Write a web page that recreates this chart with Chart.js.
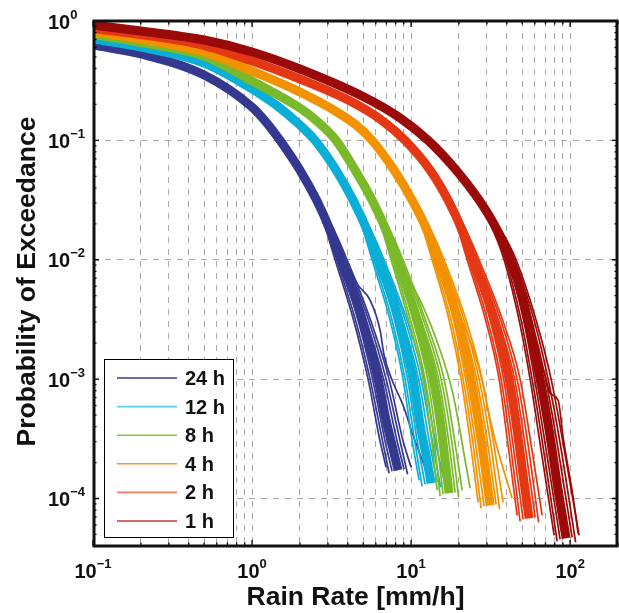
<!DOCTYPE html>
<html><head><meta charset="utf-8">
<script src="https://cdn.jsdelivr.net/npm/chart.js@4.4.1/dist/chart.umd.min.js"></script>
<style>html,body{margin:0;padding:0;background:#fff;}#wrap{position:relative;width:619px;height:613px;}</style>
</head><body><div id="wrap"><canvas id="c" width="619" height="613"></canvas></div>
<script>
// ---------- data ----------
const seriesNames = ['24 h', '12 h', '8 h', '4 h', '2 h', '1 h'];
const xTickValues = [0.1, 1, 10, 100];
const yTickValues = [1, 0.1, 0.01, 0.001, 0.0001];
const xGridValues = [0.2,0.3,0.4,0.5,0.6,0.7,0.8,0.9,1,2,3,4,5,6,7,8,9,10,20,30,40,50,60,70,80,90,100];
const yGridValues = [0.1, 0.01, 0.001, 0.0001];
const xLabel = 'Rain Rate [mm/h]';
const yLabel = 'Probability of Exceedance';

// central exceedance curve of each bundle: [rain rate mm/h, probability]
const core24 = [[0.1,0.6292],[0.2,0.529],[0.5,0.3527],[1,0.1902],[1.225,0.1424],[1.5,0.1],[2.0,0.0564],[2.545,0.0316],[3.095,0.0177],[3.628,0.01],[4.51,0.004585],[5.365,0.002119],[6.201,0.001],[6.964,4.522e-4],[7.596,2.792e-4],[8.284,1.723e-4]];
const core12 = [[0.1,0.7064],[0.2,0.6053],[0.5,0.4444],[1,0.2692],[1.5,0.1865],[2.0,0.1343],[2.49,0.1],[3.375,0.0564],[4.317,0.0316],[5.288,0.0177],[6.201,0.01],[7.707,0.004585],[9.037,0.002119],[10.29,0.001],[11.56,3.728e-4],[12.428,2.302e-4],[13.363,1.341e-4]];
const core8 = [[0.1,0.7707],[0.2,0.6604],[0.5,0.5086],[1,0.3142],[2,0.1865],[2.601,0.1424],[3.375,0.1],[4.445,0.0564],[5.686,0.0316],[6.964,0.0177],[8.165,0.01],[10,0.004585],[11.9,0.002119],[13.76,0.001],[15.22,4.522e-4],[16.37,2.09e-4],[17.34,1.106e-4]];
const core4 = [[0.1,0.8165],[0.2,0.7064],[0.5,0.5497],[1,0.3809],[2,0.254],[3.424,0.1727],[4.51,0.1343],[5.686,0.1],[7.819,0.0564],[10.15,0.0316],[12.61,0.0177],[14.79,0.01],[18.11,0.004585],[21.24,0.002119],[23.84,0.001],[26.39,4.522e-4],[28.79,2.09e-4],[31.4,8.77e-5]];
const core2 = [[0.1,0.8652],[0.2,0.7707],[0.5,0.6232],[1,0.4621],[2,0.3265],[4.134,0.2135],[6.384,0.1509],[9.169,0.1],[13.17,0.0564],[17.09,0.0316],[20.94,0.0177],[24.54,0.01],[30.5,0.004585],[36.29,0.002119],[41.34,0.001],[46.42,3.728e-4],[50.63,1.565e-4],[55.22,6.823e-5]];
const core1 = [[0.1,0.9257],[0.2,0.8245],[0.5,0.693],[1,0.5497],[2,0.396],[5.063,0.2306],[8.529,0.1538],[12.79,0.1],[19.19,0.0564],[26.77,0.0316],[34.75,0.0177],[41.94,0.01],[50.63,0.004585],[57.68,0.002119],[64.77,0.001],[73.79,3.728e-4],[84.06,1.172e-4],[94.38,4.638e-5]];

// individual realisations fanning out in the tail of each bundle
const tails24 = [
  [[1.5,0.1],[2.472,0.0316],[2.92,0.0177],[3.327,0.01],[4.349,0.003117],[5.365,0.001],[6.365,3.075e-4],[6.964,1.826e-4]],
  [[1.5,0.1],[2.49,0.0316],[2.963,0.0177],[3.4,0.01],[4.477,0.003117],[5.523,0.001],[6.6,3.075e-4],[7.274,1.626e-4]],
  [[1.5,0.1],[2.508,0.0316],[3.028,0.0177],[3.5,0.01],[4.642,0.003117],[5.727,0.001],[6.844,3.075e-4],[7.596,1.69e-4]],
  [[1.5,0.1],[2.582,0.0316],[3.162,0.0177],[3.763,0.01],[5.213,0.003117],[6.716,0.001],[8.142,3.075e-4],[9.037,1.757e-4]],
  [[1.5,0.1],[2.601,0.0316],[3.232,0.0177],[3.873,0.01],[5.404,0.003117],[6.964,0.001],[8.504,3.075e-4],[9.506,1.595e-4]],
  [[1.5,0.1],[2.62,0.0316],[3.28,0.0177],[3.958,0.01],[5.563,0.003117],[7.274,0.001],[8.881,3.075e-4],[10.0,1.826e-4]],
  [[3.628,0.01],[4.134,0.008178],[4.642,0.006125],[5.523,0.004585],[6.384,0.00257],[6.765,0.001586],[7.596,9.79e-4],[8.907,6.04e-4],[10.29,3.387e-4],[12.61,1.626e-4]]
];
const tails12 = [
  [[2.49,0.1],[4.194,0.0316],[4.99,0.0177],[5.686,0.01],[7.378,0.003117],[8.907,0.001],[10.146,3.075e-4],[11.229,1.421e-4]],
  [[2.49,0.1],[4.225,0.0316],[5.063,0.0177],[5.81,0.01],[7.596,0.003117],[9.169,0.001],[10.52,3.075e-4],[11.728,1.266e-4]],
  [[2.49,0.1],[4.256,0.0316],[5.174,0.0177],[5.98,0.01],[7.875,0.003117],[9.506,0.001],[10.908,3.075e-4],[12.246,1.316e-4]],
  [[2.49,0.1],[4.38,0.0316],[5.404,0.0177],[6.43,0.01],[8.842,0.003117],[11.148,0.001],[12.981,3.075e-4],[14.576,1.367e-4]],
  [[2.49,0.1],[4.412,0.0316],[5.523,0.0177],[6.618,0.01],[9.169,0.003117],[11.56,0.001],[13.557,3.075e-4],[15.334,1.241e-4]],
  [[2.49,0.1],[4.444,0.0316],[5.604,0.0177],[6.765,0.01],[9.437,0.003117],[12.073,0.001],[14.16,3.075e-4],[16.132,1.421e-4]]
];
const tails8 = [
  [[3.375,0.1],[5.523,0.0316],[6.572,0.0177],[7.487,0.01],[9.644,0.003117],[11.899,0.001],[13.459,3.075e-4],[14.576,1.172e-4]],
  [[3.375,0.1],[5.563,0.0316],[6.668,0.0177],[7.65,0.01],[9.928,0.003117],[12.246,0.001],[13.956,3.075e-4],[15.223,1.043e-4]],
  [[3.375,0.1],[5.604,0.0316],[6.813,0.0177],[7.875,0.01],[10.294,0.003117],[12.701,0.001],[14.47,3.075e-4],[15.899,1.084e-4]],
  [[3.375,0.1],[5.768,0.0316],[7.115,0.0177],[8.466,0.01],[11.56,0.003117],[14.896,0.001],[17.218,3.075e-4],[18.916,1.127e-4]],
  [[3.375,0.1],[5.81,0.0316],[7.274,0.0177],[8.715,0.01],[11.985,0.003117],[15.446,0.001],[17.983,3.075e-4],[19.899,1.023e-4]],
  [[3.375,0.1],[5.852,0.0316],[7.378,0.0177],[8.907,0.01],[12.337,0.003117],[16.132,0.001],[18.78,3.075e-4],[20.935,1.172e-4]],
  [[8.165,0.01],[11.393,0.004585],[15.223,0.001748],[18.113,8.07e-4],[19.757,4.522e-4],[21.865,2.09e-4],[23.499,1.218e-4]]
];
const tails4 = [
  [[5.686,0.1],[9.856,0.0316],[11.899,0.0177],[13.557,0.01],[17.343,0.003117],[20.634,0.001],[23.499,3.075e-4],[26.385,9.293e-5]],
  [[5.686,0.1],[9.928,0.0316],[12.073,0.0177],[13.852,0.01],[17.847,0.003117],[21.24,0.001],[24.367,3.075e-4],[27.56,8.277e-5]],
  [[5.686,0.1],[10.0,0.0316],[12.337,0.0177],[14.263,0.01],[18.506,0.003117],[22.025,0.001],[25.266,3.075e-4],[28.786,8.602e-5]],
  [[5.686,0.1],[10.294,0.0316],[12.884,0.0177],[15.334,0.01],[20.778,0.003117],[25.82,0.001],[30.063,3.075e-4],[34.245,8.94e-5]],
  [[5.686,0.1],[10.368,0.0316],[13.17,0.0177],[15.785,0.01],[21.544,0.003117],[26.77,0.001],[31.4,3.075e-4],[36.024,8.119e-5]],
  [[5.686,0.1],[10.444,0.0316],[13.363,0.0177],[16.132,0.01],[22.18,0.003117],[27.964,0.001],[32.797,3.075e-4],[37.898,9.293e-5]],
  [[18.11,0.004585],[23.499,0.002119],[27.964,9.79e-4],[30.503,5.486e-4],[33.762,3.075e-4],[43.179,1.004e-4]]
];
const tails2 = [
  [[9.169,0.1],[16.607,0.0316],[19.757,0.0177],[22.505,0.01],[29.413,0.003117],[35.762,0.001],[40.33,3.075e-4],[46.416,7.231e-5]],
  [[9.169,0.1],[16.721,0.0316],[20.04,0.0177],[22.995,0.01],[30.279,0.003117],[36.815,0.001],[41.82,3.075e-4],[48.48,6.44e-5]],
  [[9.169,0.1],[16.843,0.0316],[20.479,0.0177],[23.67,0.01],[31.4,0.003117],[38.174,0.001],[43.37,3.075e-4],[50.63,6.693e-5]],
  [[9.169,0.1],[17.343,0.0316],[21.389,0.0177],[25.448,0.01],[35.251,0.003117],[44.77,0.001],[51.58,3.075e-4],[60.25,6.956e-5]],
  [[9.169,0.1],[17.464,0.0316],[21.865,0.0177],[26.196,0.01],[36.551,0.003117],[46.416,0.001],[53.88,3.075e-4],[63.38,6.317e-5]],
  [[9.169,0.1],[17.591,0.0316],[22.18,0.0177],[26.77,0.01],[37.625,0.003117],[48.48,0.001],[56.28,3.075e-4],[66.68,7.231e-5]]
];
const tails1 = [
  [[12.79,0.1],[26.006,0.0316],[32.797,0.0177],[38.45,0.01],[47.781,0.003117],[56.04,0.001],[64.3,3.075e-4],[79.34,4.914e-5]],
  [[12.79,0.1],[26.196,0.0316],[33.277,0.0177],[39.296,0.01],[49.184,0.003117],[57.68,0.001],[66.68,3.075e-4],[82.87,4.377e-5]],
  [[12.79,0.1],[26.385,0.0316],[33.997,0.0177],[40.45,0.01],[50.998,0.003117],[59.8,0.001],[69.13,3.075e-4],[86.5,4.55e-5]],
  [[12.79,0.1],[27.164,0.0316],[35.507,0.0177],[43.487,0.01],[57.261,0.003117],[70.14,0.001],[82.27,3.075e-4],[102.9,4.728e-5]],
  [[12.79,0.1],[27.359,0.0316],[36.286,0.0177],[44.77,0.01],[59.37,0.003117],[72.72,0.001],[85.91,3.075e-4],[108.3,4.293e-5]],
  [[12.79,0.1],[27.56,0.0316],[36.815,0.0177],[45.75,0.01],[61.12,0.003117],[75.96,0.001],[89.71,3.075e-4],[113.9,4.914e-5]],
  [[57.68,0.002119],[69.63,0.001078],[74.85,7.617e-4],[84.06,6.654e-4],[90.35,3.258e-4],[104.4,1.023e-4],[112.3,5.108e-5]]
];

// ---------- styles ----------
const seriesColors = ['#35388f', '#0aaed6', '#7ab92a', '#f29200', '#e43815', '#990a08'];
const legendColors = ['#3a3d94', '#5fcbe6', '#8cc63f', '#ef9a2e', '#f47c68', '#c0393a'];
const FONT = "'Liberation Sans', Arial, Helvetica, sans-serif";

const cores = [core24, core12, core8, core4, core2, core1];
const tails = [tails24, tails12, tails8, tails4, tails2, tails1];
const toXY = arr => arr.map(p => ({x: p[0], y: p[1]}));

const datasets = [];
cores.forEach((core, i) => {
  const ord = cores.length - i; // later series drawn on top
  tails[i].forEach(t => datasets.push({
    label: seriesNames[i], data: toXY(t), borderColor: seriesColors[i], borderWidth: 1.7,
    pointRadius: 0, fill: false, cubicInterpolationMode: 'monotone', order: ord
  }));
  datasets.push({
    label: seriesNames[i], data: toXY(core), borderColor: seriesColors[i], borderWidth: 9,
    borderJoinStyle: 'round', pointRadius: 0, fill: false, cubicInterpolationMode: 'monotone', order: ord
  });
});

function expLabel(v) {
  return String(Math.round(Math.log10(v))).replace('-', '\u2212');
}

const decor = {
  id: 'decor',
  afterDraw(chart) {
    const ctx = chart.ctx, xs = chart.scales.x, ys = chart.scales.y, a = chart.chartArea;
    ctx.save();
    // inside ticks on all four sides
    ctx.strokeStyle = '#000'; ctx.lineWidth = 1.3;
    const decadesX = [0.1, 1, 10, 100];
    const decadesY = [1e-5, 1e-4, 1e-3, 1e-2, 1e-1, 1];
    ctx.beginPath();
    decadesX.forEach(d => { for (let m = 1; m <= 9; m++) { const v = d * m; if (v < 0.1 || v > 200) continue;
      const p = xs.getPixelForValue(v); const L = m === 1 ? 6 : 3.5;
      ctx.moveTo(p, a.bottom); ctx.lineTo(p, a.bottom - L); ctx.moveTo(p, a.top); ctx.lineTo(p, a.top + L); } });
    decadesY.forEach(d => { for (let m = 1; m <= 9; m++) { const v = d * m; if (v < 4e-5 || v > 1) continue;
      const p = ys.getPixelForValue(v); const L = m === 1 ? 6 : 3.5;
      ctx.moveTo(a.left, p); ctx.lineTo(a.left + L, p); ctx.moveTo(a.right, p); ctx.lineTo(a.right - L, p); } });
    ctx.stroke();
    // frame
    ctx.lineWidth = 3; ctx.strokeStyle = '#111';
    ctx.strokeRect(a.left + 1, a.top, a.right - a.left - 2, a.bottom - a.top);
    // tick labels (10 with superscript exponent)
    ctx.fillStyle = '#111';
    const bigF = 'bold 20px ' + FONT, supF = 'bold 13px ' + FONT;
    ctx.textBaseline = 'alphabetic'; ctx.textAlign = 'left';
    xTickValues.forEach(v => {
      const p = xs.getPixelForValue(v);
      ctx.font = bigF; const w1 = ctx.measureText('10').width;
      const s = expLabel(v);
      ctx.font = supF; const w2 = ctx.measureText(s).width;
      const x0 = p - (w1 + w2) / 2;
      ctx.font = bigF; ctx.fillText('10', x0, 578);
      ctx.font = supF; ctx.fillText(s, x0 + w1, 568);
    });
    yTickValues.forEach(v => {
      const p = ys.getPixelForValue(v);
      ctx.font = bigF; ctx.fillText('10', 48, p + 7.5);
      const w1 = ctx.measureText('10').width;
      ctx.font = supF; ctx.fillText(expLabel(v), 48 + w1, p - 2.5);
    });
    // axis titles
    ctx.font = 'bold 26.5px ' + FONT; ctx.textAlign = 'center';
    ctx.fillText(xLabel, (a.left + a.right) / 2, 605);
    ctx.save(); ctx.translate(35, (a.top + a.bottom) / 2 - 2); ctx.rotate(-Math.PI / 2);
    ctx.font = 'bold 26.5px ' + FONT;
    ctx.fillText(yLabel, 0, 0); ctx.restore();
    // legend
    const bx = 104.5, by = 359.5, bw = 129, bh = 178;
    ctx.fillStyle = '#fff'; ctx.fillRect(bx, by, bw, bh);
    ctx.lineWidth = 1; ctx.strokeStyle = '#000'; ctx.strokeRect(bx, by, bw, bh);
    ctx.font = 'bold 20px ' + FONT; ctx.textAlign = 'left';
    seriesNames.forEach((n, i) => {
      const yy = 378 + i * 28.6;
      ctx.strokeStyle = legendColors[i]; ctx.lineWidth = 1.6;
      ctx.beginPath(); ctx.moveTo(117, yy); ctx.lineTo(177, yy); ctx.stroke();
      ctx.fillStyle = '#111'; ctx.fillText(n, 185, yy + 7);
    });
    ctx.restore();
  }
};

new Chart(document.getElementById('c'), {
  type: 'line',
  data: { datasets },
  options: {
    responsive: false, animation: false, devicePixelRatio: 1,
    layout: { padding: { left: 93, top: 21, right: 1, bottom: 67 } },
    plugins: { legend: { display: false }, tooltip: { enabled: false } },
    elements: { point: { radius: 0 } },
    scales: {
      x: { type: 'logarithmic', min: 0.1, max: 200, position: 'bottom',
        ticks: { display: false }, border: { display: false, dash: [6, 6] },
        grid: { drawTicks: false, color: '#a9a9a9', lineWidth: 1 },
        afterBuildTicks: s => { s.ticks = xGridValues.map(v => ({ value: v })); } },
      y: { type: 'logarithmic', min: 4e-5, max: 1, position: 'left',
        ticks: { display: false }, border: { display: false, dash: [6, 6] },
        grid: { drawTicks: false, color: '#a9a9a9', lineWidth: 1 },
        afterBuildTicks: s => { s.ticks = yGridValues.map(v => ({ value: v })); } }
    }
  },
  plugins: [decor]
});
</script></body></html>
